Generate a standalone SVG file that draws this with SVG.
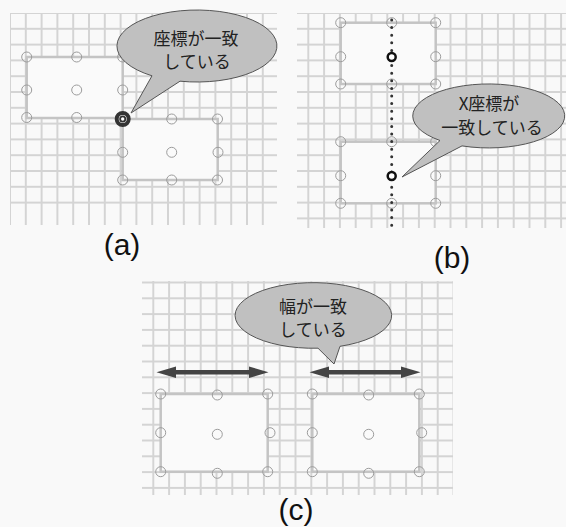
<svg xmlns="http://www.w3.org/2000/svg" width="566" height="527" viewBox="0 0 566 527">
  <defs>
    <pattern id="gridA" patternUnits="userSpaceOnUse" x="17.9" y="20.9" width="15.8" height="15.8">
      <path d="M7.9 0V15.8M0 7.9H15.8" stroke="#d4d4d4" stroke-width="2" fill="none"/>
    </pattern>
    <pattern id="ticksA" patternUnits="userSpaceOnUse" x="17.9" y="0" width="15.8" height="15.8">
      <path d="M7.9 0V15.8" stroke="#d4d4d4" stroke-width="2" fill="none"/>
    </pattern>
    <pattern id="gridB" patternUnits="userSpaceOnUse" x="300.4" y="20.9" width="15.8" height="15.8">
      <path d="M7.9 0V15.8M0 7.9H15.8" stroke="#d4d4d4" stroke-width="2" fill="none"/>
    </pattern>
    <pattern id="ticksB" patternUnits="userSpaceOnUse" x="300.4" y="0" width="15.8" height="15.8">
      <path d="M7.9 0V15.8" stroke="#d4d4d4" stroke-width="2" fill="none"/>
    </pattern>
    <pattern id="gridC" patternUnits="userSpaceOnUse" x="145.4" y="290.4" width="15.8" height="15.8">
      <path d="M7.9 0V15.8M0 7.9H15.8" stroke="#d4d4d4" stroke-width="2" fill="none"/>
    </pattern>
    <pattern id="ticksC" patternUnits="userSpaceOnUse" x="145.4" y="0" width="15.8" height="15.8">
      <path d="M7.9 0V15.8" stroke="#d4d4d4" stroke-width="2" fill="none"/>
    </pattern>
  </defs>
  <style>
    .box { fill:#fafafa; stroke:#c4c4c4; stroke-width:2.5; }
    .pt { fill:none; stroke:#9c9c9c; stroke-width:1; }
    .bubble { fill:#c0c0c0; stroke:#555; stroke-width:1; }
    .btxt { font-family:"Noto Sans CJK JP","Noto Sans",sans-serif; font-size:17px; fill:#222; text-anchor:middle; }
    .lbl { font-family:"Liberation Sans",Arial,sans-serif; font-size:30px; fill:#111; text-anchor:middle; }
    .arrow { fill:#444; }
  </style>
  <rect width="566" height="527" fill="#f9f9f9"/>

  <!-- Panel (a) -->
  <g id="panel-a">
    <g id="grid-a">
      <rect x="10" y="13" width="267" height="193" fill="url(#gridA)"/>
      <rect x="10" y="206" width="267" height="19" fill="url(#ticksA)"/>
    </g>
    <g id="rect-a1">
      <rect class="box" x="26.7" y="57" width="96" height="61"/>
      <circle class="pt" cx="26.7" cy="57" r="5"/>
      <circle class="pt" cx="76.7" cy="57" r="5"/>
      <circle class="pt" cx="122.7" cy="57" r="5"/>
      <circle class="pt" cx="26.7" cy="90" r="5"/>
      <circle class="pt" cx="76.7" cy="90" r="5"/>
      <circle class="pt" cx="122.7" cy="90" r="5"/>
      <circle class="pt" cx="26.7" cy="117.5" r="5"/>
      <circle class="pt" cx="76.7" cy="117.5" r="5"/>
    </g>
    <g id="rect-a2">
      <rect class="box" x="122.7" y="119" width="95" height="61"/>
      <circle class="pt" cx="171.7" cy="119" r="5"/>
      <circle class="pt" cx="217.5" cy="119" r="5"/>
      <circle class="pt" cx="122.7" cy="152.3" r="5"/>
      <circle class="pt" cx="171.7" cy="152.3" r="5"/>
      <circle class="pt" cx="218" cy="152.3" r="5"/>
      <circle class="pt" cx="122.7" cy="180" r="5"/>
      <circle class="pt" cx="171.7" cy="180" r="5"/>
      <circle class="pt" cx="217.5" cy="180" r="5"/>
    </g>
    <g id="match-point-a">
      <circle cx="122.7" cy="119" r="6" fill="#fff" stroke="#333" stroke-width="4"/>
      <circle cx="122.7" cy="119" r="2.6" fill="none" stroke="#333" stroke-width="1.8"/>
    </g>
    <g id="callout-a">
      <path class="bubble" d="M152 75.8 A80 36 0 1 1 180 81.2 L131 113 Z"/>
      <text class="btxt" x="196" y="45">座標が一致</text>
      <text class="btxt" x="197" y="68">している</text>
    </g>
    <text class="lbl" x="122" y="255">(a)</text>
  </g>

  <!-- Panel (b) -->
  <g id="panel-b">
    <g id="grid-b">
      <rect x="297" y="13" width="269" height="208" fill="url(#gridB)"/>
      <rect x="297" y="221" width="269" height="7" fill="url(#ticksB)"/>
    </g>
    <g id="rect-b1">
      <rect class="box" x="340.7" y="22.7" width="95" height="61.3"/>
      <circle class="pt" cx="340.7" cy="22.7" r="5"/>
      <circle class="pt" cx="391.7" cy="22.7" r="5"/>
      <circle class="pt" cx="435.7" cy="22.7" r="5"/>
      <circle class="pt" cx="340.7" cy="56.7" r="5"/>
      <circle class="pt" cx="435.7" cy="56.7" r="5"/>
      <circle class="pt" cx="340.7" cy="84" r="5"/>
      <circle class="pt" cx="391.7" cy="84" r="5"/>
      <circle class="pt" cx="435.7" cy="84" r="5"/>
    </g>
    <g id="rect-b2">
      <rect class="box" x="340.7" y="141.7" width="95" height="61.6"/>
      <circle class="pt" cx="340.7" cy="141.7" r="5"/>
      <circle class="pt" cx="391.7" cy="141.7" r="5"/>
      <circle class="pt" cx="435.7" cy="141.7" r="5"/>
      <circle class="pt" cx="340.7" cy="175.7" r="5"/>
      <circle class="pt" cx="435.7" cy="175.7" r="5"/>
      <circle class="pt" cx="340.7" cy="203.3" r="5"/>
      <circle class="pt" cx="391.7" cy="203.3" r="5"/>
      <circle class="pt" cx="435.7" cy="203.3" r="5"/>
    </g>
  </g>

  <!-- Panel (c) -->
  <g id="panel-c">
    <g id="grid-c">
      <rect x="142" y="281" width="311" height="209" fill="url(#gridC)"/>
      <rect x="142" y="490" width="311" height="5" fill="url(#ticksC)"/>
    </g>
    <g id="rect-c1">
      <rect class="box" x="160.7" y="394" width="107" height="77.7"/>
      <circle class="pt" cx="160.7" cy="394" r="5"/>
      <circle class="pt" cx="217.3" cy="395" r="5"/>
      <circle class="pt" cx="267.7" cy="394" r="5"/>
      <circle class="pt" cx="160.7" cy="432.7" r="5"/>
      <circle class="pt" cx="217.3" cy="434.3" r="5"/>
      <circle class="pt" cx="270" cy="432.7" r="5"/>
      <circle class="pt" cx="160.7" cy="471.7" r="5"/>
      <circle class="pt" cx="217.3" cy="473.3" r="5"/>
      <circle class="pt" cx="267.7" cy="471.7" r="5"/>
    </g>
    <g id="rect-c2">
      <rect class="box" x="312.3" y="394" width="107" height="77.7"/>
      <circle class="pt" cx="312.3" cy="394" r="5"/>
      <circle class="pt" cx="368.7" cy="395" r="5"/>
      <circle class="pt" cx="419.3" cy="394" r="5"/>
      <circle class="pt" cx="312.3" cy="432.7" r="5"/>
      <circle class="pt" cx="368.7" cy="434.3" r="5"/>
      <circle class="pt" cx="421.7" cy="432.7" r="5"/>
      <circle class="pt" cx="312.3" cy="471.7" r="5"/>
      <circle class="pt" cx="368.7" cy="473.3" r="5"/>
      <circle class="pt" cx="419.3" cy="471.7" r="5"/>
    </g>
  </g>

  <!-- Connectors -->
  <g id="connectors">
    <line x1="391.7" y1="20" x2="391.7" y2="229" stroke="#333" stroke-width="3" stroke-linecap="round" stroke-dasharray="0 7.6"/>
    <polygon class="arrow" points="156.5,372.3 176,366.5 176,370 249,370 249,366.5 268.5,372.3 249,378.1 249,374.6 176,374.6 176,378.1"/>
    <polygon class="arrow" points="309.5,372.3 329,366.5 329,370 401,370 401,366.5 420.5,372.3 401,378.1 401,374.6 329,374.6 329,378.1"/>
  </g>

  <g id="match-points-b">
    <circle cx="391.7" cy="57" r="4" fill="#fff" stroke="#111" stroke-width="2.5"/>
    <circle cx="391.7" cy="176" r="4" fill="#fff" stroke="#111" stroke-width="2.5"/>
  </g>

  <g id="callout-b">
    <path class="bubble" d="M440 140.5 A76 32 0 1 1 462 145.9 L402 177 Z"/>
    <text class="btxt" x="489" y="110">X座標が</text>
    <text class="btxt" x="492" y="134">一致している</text>
  </g>
  <text class="lbl" x="452" y="268">(b)</text>

  <g id="callout-c">
    <path class="bubble" d="M318 348.2 A78.3 32.8 0 1 1 340 346.3 L334 364 Z"/>
    <text class="btxt" x="313" y="313">幅が一致</text>
    <text class="btxt" x="313" y="336">している</text>
  </g>
  <text class="lbl" x="296" y="520">(c)</text>
</svg>
